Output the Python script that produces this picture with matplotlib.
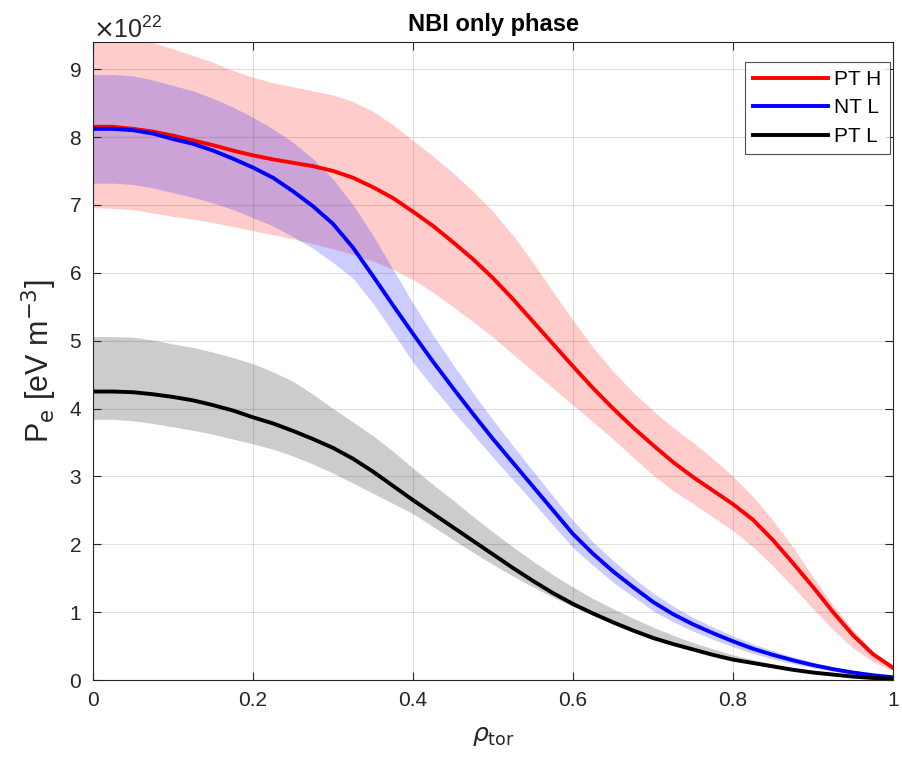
import matplotlib
matplotlib.use("Agg")
import matplotlib.pyplot as plt
from matplotlib.ticker import ScalarFormatter

plt.rcParams["font.family"] = ["Liberation Sans", "DejaVu Sans"]

# radial grid (rho_tor) and profiles, in units of 1e22 eV m^-3
rho = [0.0, 0.025, 0.05, 0.075, 0.1, 0.125, 0.15, 0.175, 0.2, 0.225,
       0.25, 0.275, 0.3, 0.325, 0.35, 0.375, 0.4, 0.425, 0.45, 0.475,
       0.5, 0.525, 0.55, 0.575, 0.6, 0.625, 0.65, 0.675, 0.7, 0.725,
       0.75, 0.775, 0.8, 0.825, 0.85, 0.875, 0.9, 0.925, 0.95, 0.975, 1.0]

pt_h_mid = [8.15, 8.15, 8.12, 8.08, 8.02, 7.95, 7.88, 7.8, 7.73, 7.67,
            7.62, 7.57, 7.5, 7.4, 7.26, 7.1, 6.9, 6.69, 6.45, 6.2,
            5.92, 5.61, 5.28, 4.95, 4.62, 4.3, 4.0, 3.72, 3.46, 3.21,
            2.99, 2.79, 2.59, 2.36, 2.06, 1.72, 1.37, 1.0, 0.66, 0.38, 0.18]
pt_h_hi = [9.5, 9.48, 9.45, 9.39, 9.3, 9.2, 9.1, 8.98, 8.88, 8.8,
           8.74, 8.68, 8.62, 8.52, 8.38, 8.18, 7.95, 7.72, 7.47, 7.2,
           6.9, 6.55, 6.15, 5.72, 5.3, 4.9, 4.55, 4.24, 3.97, 3.72,
           3.5, 3.26, 3.0, 2.7, 2.35, 1.95, 1.52, 1.1, 0.74, 0.42, 0.2]
pt_h_lo = [6.96, 6.95, 6.93, 6.88, 6.83, 6.79, 6.74, 6.68, 6.62, 6.56,
           6.5, 6.43, 6.35, 6.27, 6.17, 6.05, 5.9, 5.71, 5.5, 5.28,
           5.05, 4.8, 4.55, 4.3, 4.05, 3.8, 3.55, 3.28, 3.02, 2.79,
           2.6, 2.4, 2.2, 1.96, 1.68, 1.37, 1.05, 0.74, 0.47, 0.27, 0.13]

nt_l_mid = [8.12, 8.12, 8.1, 8.05, 7.97, 7.9, 7.8, 7.68, 7.55, 7.4,
            7.2, 6.98, 6.72, 6.37, 5.95, 5.52, 5.1, 4.69, 4.3, 3.92,
            3.55, 3.2, 2.85, 2.5, 2.15, 1.86, 1.6, 1.37, 1.15, 0.97,
            0.82, 0.69, 0.57, 0.46, 0.37, 0.29, 0.22, 0.16, 0.11, 0.07, 0.04]
nt_l_hi = [8.92, 8.92, 8.9, 8.84, 8.76, 8.68, 8.57, 8.44, 8.29, 8.12,
           7.92, 7.68, 7.38, 7.0, 6.55, 6.05, 5.55, 5.08, 4.65, 4.23,
           3.83, 3.45, 3.08, 2.71, 2.35, 2.03, 1.76, 1.51, 1.28, 1.09,
           0.92, 0.78, 0.65, 0.53, 0.43, 0.34, 0.26, 0.19, 0.14, 0.09, 0.06]
nt_l_lo = [7.32, 7.32, 7.3, 7.25, 7.18, 7.11, 7.03, 6.93, 6.81, 6.69,
           6.53, 6.36, 6.15, 5.92, 5.55, 5.12, 4.68, 4.31, 3.96, 3.62,
           3.28, 2.95, 2.62, 2.28, 1.95, 1.69, 1.44, 1.23, 1.02, 0.86,
           0.72, 0.6, 0.49, 0.39, 0.31, 0.24, 0.18, 0.13, 0.08, 0.05, 0.02]

pt_l_mid = [4.25, 4.25, 4.24, 4.21, 4.17, 4.12, 4.05, 3.97, 3.87, 3.78,
            3.67, 3.55, 3.42, 3.26, 3.07, 2.86, 2.65, 2.45, 2.25, 2.05,
            1.85, 1.65, 1.46, 1.28, 1.12, 0.98, 0.85, 0.73, 0.62, 0.53,
            0.45, 0.37, 0.3, 0.25, 0.2, 0.15, 0.11, 0.08, 0.05, 0.03, 0.02]
pt_l_hi = [5.06, 5.06, 5.05, 5.01, 4.95, 4.9, 4.83, 4.75, 4.66, 4.54,
           4.4, 4.21, 4.0, 3.8, 3.6, 3.37, 3.12, 2.88, 2.65, 2.41,
           2.18, 1.96, 1.75, 1.55, 1.37, 1.2, 1.05, 0.91, 0.78, 0.66,
           0.55, 0.46, 0.37, 0.3, 0.24, 0.18, 0.13, 0.09, 0.06, 0.04, 0.02]
pt_l_lo = [3.84, 3.84, 3.82, 3.78, 3.73, 3.68, 3.62, 3.55, 3.48, 3.4,
           3.3, 3.18, 3.05, 2.9, 2.75, 2.6, 2.45, 2.26, 2.07, 1.88,
           1.7, 1.53, 1.37, 1.22, 1.08, 0.95, 0.82, 0.7, 0.59, 0.51,
           0.43, 0.36, 0.29, 0.24, 0.19, 0.14, 0.1, 0.07, 0.04, 0.02, 0.01]

labels = ["PT H", "NT L", "PT L"]
colors = ["#ff0000", "#0000ff", "#000000"]
scale = 1e22

fig = plt.figure(figsize=(9.03, 7.73), dpi=100)
ax = fig.add_axes([0.103, 0.1203, 0.886, 0.8254])

series = [(pt_h_mid, pt_h_lo, pt_h_hi), (nt_l_mid, nt_l_lo, nt_l_hi),
          (pt_l_mid, pt_l_lo, pt_l_hi)]
for (mid, lo, hi), lab, col in zip(series, labels, colors):
    ax.fill_between(rho, [v * scale for v in lo], [v * scale for v in hi],
                    color=col, alpha=0.2, linewidth=0)
    ax.plot(rho, [v * scale for v in mid], color=col, lw=2.8, label=lab,
            solid_joinstyle="round")

ax.set_xlim(0, 1)
ax.set_ylim(0, 9.4e22)
ax.set_xticks([0, 0.2, 0.4, 0.6, 0.8, 1])
ax.set_xticklabels(["0", "0.2", "0.4", "0.6", "0.8", "1"])
ax.set_yticks([i * scale for i in range(10)])

fmt = ScalarFormatter(useMathText=True)
ax.yaxis.set_major_formatter(fmt)
ax.yaxis.get_offset_text().set_fontsize(18)
ax.yaxis.get_offset_text().set_color("#262626")

ax.grid(True, color="#000000", alpha=0.12, lw=0.8)
ax.tick_params(direction="in", length=6, width=0.8, labelsize=15,
               colors="#262626", top=True, right=True, pad=8)
for s in ax.spines.values():
    s.set_color("#262626")
    s.set_linewidth(0.8)

ax.set_title("NBI only phase", fontsize=17, fontweight="bold", pad=8)
ax.set_xlabel(r"$\rho_{\mathrm{tor}}$", fontsize=18, color="#262626", labelpad=10)
ax.set_ylabel(r"P$_{\mathrm{e}}$ [eV m$^{-3}$]", fontsize=22, color="#262626", labelpad=7)

leg = ax.legend(loc="upper right", bbox_to_anchor=(0.996, 0.969), fontsize=15,
                frameon=True, fancybox=False, edgecolor="#262626",
                handlelength=3.6, borderaxespad=0.0, labelspacing=0.45,
                handletextpad=0.3, borderpad=0.4)
leg.get_frame().set_linewidth(0.8)

fig.savefig("out.png", dpi=100)
